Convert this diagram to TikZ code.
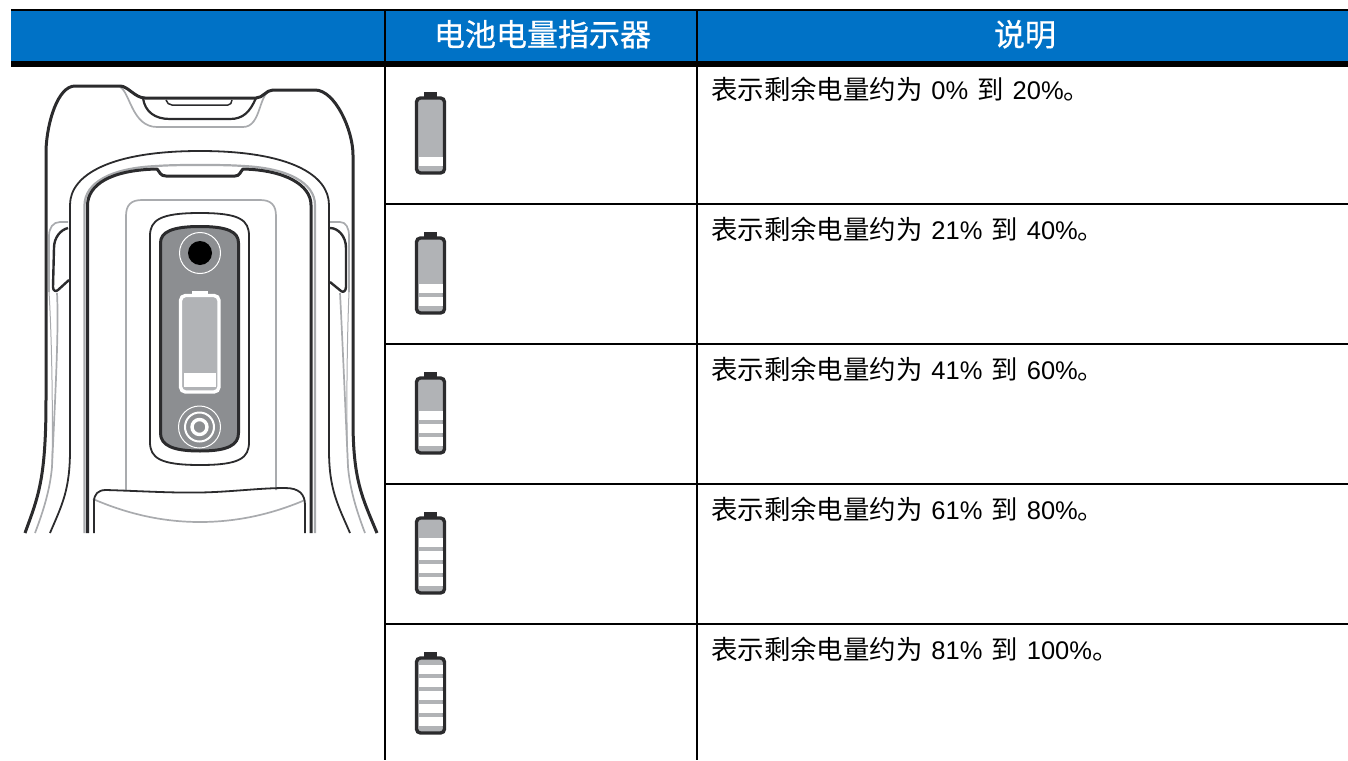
\documentclass[tikz,border=0pt]{standalone}
\usepackage{fontspec}
\setmainfont{Liberation Sans}
\newfontfamily\cjk{Noto Sans CJK SC}
\newfontfamily\cjkhead[FakeBold=0.5]{Noto Sans CJK SC}
\definecolor{hdrblue}{HTML}{0072C6}
\definecolor{inkdark}{HTML}{2B2B2D}
\definecolor{midgray}{HTML}{A9ABAE}
\definecolor{battgray}{HTML}{B1B3B6}
\definecolor{panelgray}{HTML}{8C8E91}
\newcommand{\cjktxt}[1]{{\cjk\fontsize{26.4}{30}\selectfont #1}}
\newcommand{\desc}[2]{\cjktxt{表示剩余电量约为}\kern9pt #1\kern9pt\cjktxt{到}\kern9pt #2\cjktxt{。}}
\tikzset{
  rule/.style={draw=black,line width=2pt},
  darkline/.style={draw=inkdark,line width=3pt,line join=round},
  thinline/.style={draw=inkdark,line width=1.8pt,line join=round},
  grayline/.style={draw=midgray,line width=1.7pt,line join=round},
  bodytxt/.style={anchor=base west,inner sep=0pt,font=\fontsize{25.5}{30}\selectfont,text=black},
  headtxt/.style={anchor=base,inner sep=0pt,font=\cjkhead\fontsize{31}{36}\selectfont,text=white},
  batshell/.style={draw=inkdark,fill=battgray,line width=3.4pt,rounded corners=4pt},
  batcap/.style={fill=inkdark,draw=none},
  batseg/.style={fill=white,draw=none}
}
\newcommand{\battery}[3]{% #1 name, #2 y offset, #3 segments
  \begin{scope}[shift={(0,#2)}]
    \path[batcap] (424,92) rectangle (437,98);
    \path[batshell] (416.5,98) rectangle (444.5,173) node[pos=.5,inner sep=0pt] (#1) {};
    \foreach \k in {1,...,#3}{
      \path[batseg] (419,{157-13*(\k-1)}) rectangle (443,{166-13*(\k-1)});
    }
  \end{scope}
}
\begin{document}
\begin{tikzpicture}[x=1pt,y=-1pt]
\useasboundingbox (0,0) rectangle (1348,760);
% header
\fill[hdrblue] (11,10) rectangle (1348,62);
\fill[black] (11,9) rectangle (1348,11);
\fill[black] (11,61) rectangle (1348,67);
% grid
\draw[rule] (385,10) -- (385,62);
\draw[rule] (697,10) -- (697,62);
\draw[rule] (385,66) -- (385,760);
\draw[rule] (697,66) -- (697,760);
\foreach \yy in {204,344,484,624}{\draw[rule] (385,\yy) -- (1348,\yy);}
\node[headtxt] (h1) at (542.5,46) {电池电量指示器};
\node[headtxt] (h2) at (1025,46) {说明};
% texts
\node[bodytxt] (t1) at (711,99.3) {\desc{0\%}{20\%}};
\node[bodytxt] (t2) at (711,239.3) {\desc{21\%}{40\%}};
\node[bodytxt] (t3) at (711,379.3) {\desc{41\%}{60\%}};
\node[bodytxt] (t4) at (711,519.3) {\desc{61\%}{80\%}};
\node[bodytxt] (t5) at (711,659.3) {\desc{81\%}{100\%}};
% batteries
\battery{b1}{0}{1}
\battery{b2}{140}{2}
\battery{b3}{280}{3}
\battery{b4}{420}{4}
\battery{b5}{560}{5}
% device
\begin{scope}
\clip (0,70) rectangle (385,533);
% gray details
\draw[grayline] (120,87) .. controls (130,92) and (132,127) .. (157,127) -- (243,127) .. controls (262,127) and (258,92) .. (272,90);
\draw[grayline,line width=2.2pt] (84.5,533) -- (84.5,205) .. controls (85,183) and (110,168) .. (157,166) .. controls (170,165) and (185,165) .. (200,165) .. controls (215,165) and (230,165) .. (243,166) .. controls (288,168) and (315,183) .. (315,205) -- (315,533);
\draw[grayline] (126,490) -- (126,216) .. controls (126,205) and (131,200) .. (142,200) -- (260,200) .. controls (271,200) and (276,205) .. (276,216) -- (276,490);
% side gray
\draw[grayline] (68,222) -- (60,222) .. controls (53,222) and (49,228) .. (49,236) -- (49,292);
\draw[grayline] (57,293) .. controls (59,330) and (55,400) .. (52,467) .. controls (50,490) and (43,512) .. (35,533);
\draw[grayline,line width=1pt] (49,292) .. controls (52,340) and (53,420) .. (52,467);
\draw[grayline] (330,222) -- (340,222) .. controls (346,222) and (349,228) .. (349,236) -- (349,292);
\draw[grayline] (340,293) .. controls (342,330) and (345,400) .. (348,467) .. controls (350,490) and (357,512) .. (365,533);
\draw[grayline,line width=1pt] (349,292) .. controls (347,340) and (346,420) .. (348,467);
% outer
\draw[darkline] (25,533) .. controls (38,497) and (46,480) .. (46,400) -- (46,150) .. controls (47,122) and (58,86) .. (75,86) -- (120,86) .. controls (128,86) and (135,98) .. (145,98) -- (256,98) .. controls (263,98) and (266,90) .. (273,90) -- (315,90) .. controls (335,90) and (353,130) .. (353,155) -- (353,420) .. controls (353,480) and (362,497) .. (377,533);
% notch
\draw[darkline,line width=2.2pt] (143,98) .. controls (145,112) and (155,119) .. (170,119) -- (230,119) .. controls (243,119) and (250,112) .. (256,98);
\draw[thinline,line width=1.5pt] (166,100) .. controls (167,103) and (169,105) .. (172,105) -- (228,105) .. controls (230,105) and (232,103) .. (232,100);
% second outline
\draw[thinline] (50,533) .. controls (62,505) and (70,490) .. (70,450) -- (70,205) .. controls (70,175) and (110,151) .. (200,151) .. controls (290,151) and (329,175) .. (329,205) -- (329,450) .. controls (329,490) and (338,505) .. (350,533);
% third outline
\draw[darkline] (87.5,533) -- (87.5,205) .. controls (88,185) and (110,170) .. (157,169) .. controls (160,172) and (160,176) .. (166,176) -- (235,176) .. controls (240,176) and (240,172) .. (243,169) .. controls (285,170) and (311,185) .. (311,205) -- (311,533);
% card
\draw[grayline] (93,499) .. controls (130,515) and (165,522) .. (200,522) .. controls (235,522) and (270,515) .. (305,500);
\draw[thinline] (94,533) -- (94,502) .. controls (94,494) and (98,490) .. (106,490) .. controls (140,491) and (170,493) .. (200,492.5) .. controls (230,492) and (260,488) .. (285,488) .. controls (299,488) and (305,494) .. (305,505) -- (305,533);
% buttons
\draw[darkline,line width=2.4pt,fill=white] (68,228) .. controls (60,230) and (54,238) .. (54,248) -- (53,287) .. controls (53,291) and (56,292) .. (58,290) -- (69,280);
\draw[darkline,line width=2.4pt,fill=white] (330,228) .. controls (338,228) and (346,236) .. (346,248) -- (346,287) .. controls (346,291) and (343,293) .. (341,291) -- (330,282);
% module
\draw[thinline,fill=white] (150,236) .. controls (150,220) and (160,213) .. (200,213) .. controls (240,213) and (249,220) .. (249,236) -- (249,442) .. controls (249,458) and (240,465) .. (200,465) .. controls (160,465) and (150,458) .. (150,442) -- cycle;
\draw[darkline,fill=panelgray] (160.5,243) .. controls (160.5,232) and (172,226.5) .. (200,226.5) .. controls (228,226.5) and (238.5,232) .. (238.5,243) -- (238.5,433) .. controls (238.5,445) and (228,451) .. (200,451) .. controls (172,451) and (160.5,445) .. (160.5,433) -- cycle;
% top lens
\draw[white,line width=1pt] (200,253) circle[radius=20.5pt];
\fill[black] (200,253) circle[radius=12pt];
% bottom lens
\draw[white,line width=1pt] (199.5,427) circle[radius=21pt];
\draw[white,line width=2pt] (199.5,427) circle[radius=14.5pt];
\draw[white,line width=3.4pt] (199.5,427) circle[radius=7.5pt];
% screen battery
\fill[white] (192,291) rectangle (208,296);
\draw[white,fill=battgray,line width=3.4pt,rounded corners=5pt] (180.5,295.5) rectangle (219,392);
\fill[white] (184,373) rectangle (215.5,387);
\end{scope}
\end{tikzpicture}
\end{document}
